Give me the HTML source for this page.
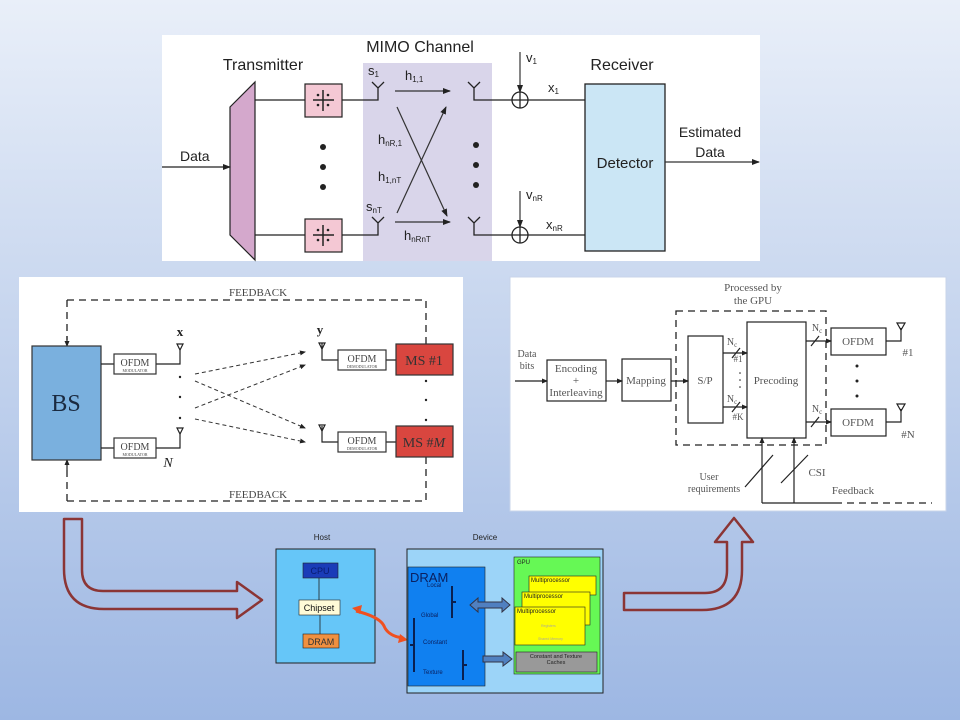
<!DOCTYPE html>
<html><head><meta charset="utf-8"><style>
html,body{margin:0;padding:0;}
body{width:960px;height:720px;overflow:hidden;background:linear-gradient(#e9eff9,#c6d5ee 45%,#9db7e3);}
svg{display:block}
.s{font-family:"Liberation Sans",sans-serif;}
.r{font-family:"Liberation Serif",serif;}
</style></head><body>
<svg width="960" height="720" viewBox="0 0 960 720" xmlns="http://www.w3.org/2000/svg">
<defs>
<marker id="a" markerWidth="8" markerHeight="8" refX="7" refY="4" orient="auto" markerUnits="userSpaceOnUse"><path d="M0,1 L8,4 L0,7 Z" fill="#222"/></marker>
<marker id="b" markerWidth="6" markerHeight="6" refX="5" refY="3" orient="auto" markerUnits="userSpaceOnUse"><path d="M0,0.5 L6,3 L0,5.5 Z" fill="#222"/></marker>
</defs>

<!-- TOP PANEL -->
<rect x="162" y="35" width="598" height="226" fill="#fff"/>
<rect x="363" y="63" width="129" height="198" fill="#d9d5ea"/>
<rect x="585" y="84" width="80" height="167" fill="#cbe6f5" stroke="#222" stroke-width="1.3"/>
<g class="s" fill="#222" font-size="16">
<text x="420" y="52" text-anchor="middle">MIMO Channel</text>
<text x="263" y="70" text-anchor="middle">Transmitter</text>
<text x="622" y="70" text-anchor="middle">Receiver</text>
<text x="180" y="161" font-size="14">Data</text>
<text x="710" y="137" font-size="14" text-anchor="middle">Estimated</text>
<text x="710" y="157" font-size="14" text-anchor="middle">Data</text>
<text x="625" y="168" font-size="15" text-anchor="middle">Detector</text>
</g>
<path d="M230,107 L255,82 L255,260 L230,235 Z" fill="#d4a8cc" stroke="#222" stroke-width="1.2"/>
<line x1="162" y1="167" x2="230" y2="167" stroke="#222" stroke-width="1.3" marker-end="url(#a)"/>
<g stroke="#222" stroke-width="1.3" fill="none">
<path d="M255,100 H305 M342,100 H378 V88 M372,82 L378,88 L384,82"/>
<path d="M255,235 H305 M342,235 H378 V223 M372,217 L378,223 L384,217"/>
<path d="M474,88 V100 H512 M468,82 L474,88 L480,82 M528,100 H585"/>
<path d="M474,223 V235 H512 M468,217 L474,223 L480,217 M528,235 H585"/>
<circle cx="520" cy="100" r="8" fill="#fff"/><path d="M512,100 H528 M520,92 V108"/>
<circle cx="520" cy="235" r="8" fill="#fff"/><path d="M512,235 H528 M520,227 V243"/>
</g>
<g fill="#f4c8d4" stroke="#222" stroke-width="1.2">
<rect x="305" y="84" width="37" height="33"/><rect x="305" y="219" width="37" height="33"/>
</g>
<g stroke="#222" stroke-width="1.5"><path d="M313,100 H334 M323,90 V111 M313,235 H334 M323,225 V246"/></g>
<g fill="#222"><circle cx="318" cy="95" r="1.3"/><circle cx="328" cy="95" r="1.3"/><circle cx="318" cy="105" r="1.3"/><circle cx="328" cy="105" r="1.3"/>
<circle cx="318" cy="230" r="1.3"/><circle cx="328" cy="230" r="1.3"/><circle cx="318" cy="240" r="1.3"/><circle cx="328" cy="240" r="1.3"/>
<circle cx="323" cy="147" r="3"/><circle cx="323" cy="167" r="3"/><circle cx="323" cy="187" r="3"/>
<circle cx="476" cy="145" r="3"/><circle cx="476" cy="165" r="3"/><circle cx="476" cy="185" r="3"/></g>
<g stroke="#333" stroke-width="1.2">
<line x1="395" y1="91" x2="450" y2="91" marker-end="url(#a)"/>
<line x1="395" y1="222" x2="450" y2="222" marker-end="url(#a)"/>
<line x1="397" y1="107" x2="447" y2="216" marker-end="url(#a)"/>
<line x1="397" y1="213" x2="446" y2="107" marker-end="url(#a)"/>
<line x1="520" y1="52" x2="520" y2="92" marker-end="url(#a)"/>
<line x1="520" y1="191" x2="520" y2="227" marker-end="url(#a)"/>
<line x1="665" y1="162" x2="759" y2="162" marker-end="url(#a)"/>
</g>
<g class="s" fill="#222" font-size="13">
<text x="368" y="75">s<tspan font-size="8" dy="2">1</tspan></text>
<text x="405" y="80">h<tspan font-size="8" dy="2">1,1</tspan></text>
<text x="378" y="144">h<tspan font-size="8" dy="2">nR,1</tspan></text>
<text x="378" y="181">h<tspan font-size="8" dy="2">1,nT</tspan></text>
<text x="366" y="211">s<tspan font-size="8" dy="2">nT</tspan></text>
<text x="404" y="240">h<tspan font-size="8" dy="2">nRnT</tspan></text>
<text x="526" y="62">v<tspan font-size="8" dy="2">1</tspan></text>
<text x="548" y="92">x<tspan font-size="8" dy="2">1</tspan></text>
<text x="526" y="199">v<tspan font-size="8" dy="2">nR</tspan></text>
<text x="546" y="229">x<tspan font-size="8" dy="2">nR</tspan></text>
</g>

<!-- MIDDLE LEFT -->
<rect x="19" y="277" width="444" height="235" fill="#fff"/>
<g stroke="#222" stroke-width="1.3" fill="none" stroke-dasharray="7,5">
<path d="M67,300 H426 V344 M67,300 V340"/>
<path d="M67,501 H426 V457 M67,501 V466"/>
</g>
<g stroke="#222" stroke-width="1.2">
<line x1="67" y1="336" x2="67" y2="346" marker-end="url(#b)"/>
<line x1="67" y1="470" x2="67" y2="460" marker-end="url(#b)"/>
</g>
<g class="r" fill="#444" font-size="11">
<text x="258" y="296" text-anchor="middle">FEEDBACK</text>
<text x="258" y="498" text-anchor="middle">FEEDBACK</text>
</g>
<rect x="32" y="346" width="69" height="114" fill="#7ab0de" stroke="#333" stroke-width="1.2"/>
<text x="66" y="411" class="r" font-size="24" fill="#1a2a40" text-anchor="middle">BS</text>
<g stroke="#222" stroke-width="1.2" fill="none">
<path d="M101,364 H114 M156,364 H180 V350 M101,448 H114 M156,448 H180 V434"/>
<path d="M177,344 L183,344 L180,350 Z M177,428 L183,428 L180,434 Z"/>
<path d="M386,360 H396 M386,442 H396"/>
<path d="M322,343 V360 H338 M322,426 V442 H338"/>
<path d="M319,343 L325,343 L322,349 Z M319,425 L325,425 L322,431 Z"/>
</g>
<g stroke="#333" stroke-width="1.2" fill="#fff">
<rect x="114" y="354" width="42" height="20"/><rect x="114" y="438" width="42" height="20"/>
<rect x="338" y="350" width="48" height="20"/><rect x="338" y="432" width="48" height="20"/>
</g>
<g class="r" fill="#444" text-anchor="middle">
<text x="135" y="366" font-size="10">OFDM</text><text x="135" y="372" font-size="4">MODULATOR</text>
<text x="135" y="450" font-size="10">OFDM</text><text x="135" y="456" font-size="4">MODULATOR</text>
<text x="362" y="362" font-size="10">OFDM</text><text x="362" y="368" font-size="4">DEMODULATOR</text>
<text x="362" y="444" font-size="10">OFDM</text><text x="362" y="450" font-size="4">DEMODULATOR</text>
<text x="180" y="336" font-size="13" font-weight="bold" fill="#222">x</text>
<text x="320" y="334" font-size="13" font-weight="bold" fill="#222">y</text>
<text x="168" y="467" font-size="14" font-style="italic" fill="#222">N</text>
</g>
<g fill="#222"><circle cx="180" cy="377" r="1.2"/><circle cx="180" cy="397" r="1.2"/><circle cx="180" cy="418" r="1.2"/>
<circle cx="426" cy="381" r="1.2"/><circle cx="426" cy="400" r="1.2"/><circle cx="426" cy="420" r="1.2"/></g>
<g stroke="#333" stroke-width="1" stroke-dasharray="4,3">
<line x1="195" y1="374" x2="305" y2="352" marker-end="url(#b)"/>
<line x1="195" y1="381" x2="305" y2="428" marker-end="url(#b)"/>
<line x1="195" y1="408" x2="305" y2="365" marker-end="url(#b)"/>
<line x1="195" y1="419" x2="305" y2="442" marker-end="url(#b)"/>
</g>
<rect x="396" y="344" width="57" height="31" fill="#d9463f" stroke="#333" stroke-width="1.2"/>
<rect x="396" y="426" width="57" height="31" fill="#d9463f" stroke="#333" stroke-width="1.2"/>
<text x="424" y="365" class="r" font-size="14" fill="#333" text-anchor="middle">MS #1</text>
<text x="424" y="447" class="r" font-size="14" fill="#333" text-anchor="middle">MS #<tspan font-style="italic">M</tspan></text>

<!-- MIDDLE RIGHT -->
<rect x="510" y="277" width="436" height="234" fill="#fff" stroke="#c8d4ea"/>
<rect x="676" y="311" width="150" height="134" fill="none" stroke="#222" stroke-width="1.3" stroke-dasharray="7,5"/>
<g stroke="#222" stroke-width="1.2" fill="#fff">
<rect x="547" y="360" width="59" height="41"/><rect x="622" y="359" width="49" height="42"/>
<rect x="688" y="336" width="35" height="87"/><rect x="747" y="322" width="59" height="116"/>
<rect x="831" y="328" width="55" height="27"/><rect x="831" y="409" width="55" height="27"/>
</g>
<g class="r" fill="#555" font-size="11" text-anchor="middle">
<text x="753" y="291">Processed by</text><text x="753" y="304">the GPU</text>
<text x="527" y="357" font-size="10">Data</text><text x="527" y="369" font-size="10">bits</text>
<text x="576" y="372">Encoding</text><text x="576" y="384">+</text><text x="576" y="396">Interleaving</text>
<text x="646" y="384">Mapping</text>
<text x="705" y="384">S/P</text>
<text x="776" y="384">Precoding</text>
<text x="858" y="345">OFDM</text><text x="858" y="426">OFDM</text>
<text x="908" y="356">#1</text><text x="908" y="438">#N</text>
<text x="709" y="480" font-size="10">User</text><text x="714" y="492" font-size="10">requirements</text>
<text x="817" y="476">CSI</text>
<text x="853" y="494">Feedback</text>
<text x="732" y="345" font-size="10">N<tspan font-size="7" dy="2">c</tspan></text>
<text x="738" y="362" font-size="9">#1</text>
<text x="732" y="402" font-size="10">N<tspan font-size="7" dy="2">c</tspan></text>
<text x="738" y="420" font-size="9">#K</text>
<text x="817" y="331" font-size="10">N<tspan font-size="7" dy="2">c</tspan></text>
<text x="817" y="412" font-size="10">N<tspan font-size="7" dy="2">c</tspan></text>
</g>
<g stroke="#222" stroke-width="1.2" fill="none">
<line x1="515" y1="381" x2="547" y2="381" marker-end="url(#b)"/>
<line x1="606" y1="381" x2="622" y2="381" marker-end="url(#b)"/>
<line x1="671" y1="381" x2="688" y2="381" marker-end="url(#b)"/>
<line x1="723" y1="353" x2="747" y2="353" marker-end="url(#b)"/>
<line x1="723" y1="407" x2="747" y2="407" marker-end="url(#b)"/>
<line x1="806" y1="341" x2="831" y2="341" marker-end="url(#b)"/>
<line x1="806" y1="422" x2="831" y2="422" marker-end="url(#b)"/>
<line x1="762" y1="503" x2="762" y2="438" marker-end="url(#b)"/>
<line x1="794" y1="503" x2="794" y2="438" marker-end="url(#b)"/>
<path d="M762,503 H835"/>
<path d="M835,503 H932" stroke-dasharray="7,5"/>
<path d="M886,341 H901 V328 M886,422 H901 V409"/>
<path d="M897,323 L905,323 L901,330 Z M897,404 L905,404 L901,411 Z"/>
<path d="M732,358 L740,348 M732,412 L740,402 M811,346 L819,336 M811,427 L819,417 M745,487 L773,455 M781,483 L808,455"/>
</g>
<g fill="#222"><circle cx="857" cy="366" r="1.5"/><circle cx="857" cy="381" r="1.5"/><circle cx="857" cy="396" r="1.5"/>
<circle cx="740" cy="373" r="0.8"/><circle cx="740" cy="380" r="0.8"/><circle cx="740" cy="387" r="0.8"/></g>

<!-- BIG ARROWS -->
<path d="M64,519 H82 V570 Q82,591 103,591 H237 V582 L262,600 L237,618 V609 H104 Q64,609 64,569 Z" fill="none" stroke="#8b3535" stroke-width="2.5" stroke-linejoin="round"/>
<path d="M624,593 H705 Q727,593 727,570 V542 H715 L734,518 L753,542 H742 V570 Q742,610 702,610 H624 Z" fill="none" stroke="#8b3535" stroke-width="2.5" stroke-linejoin="round"/>

<!-- BOTTOM -->
<g class="s" font-size="8" fill="#222">
<text x="322" y="540" text-anchor="middle">Host</text>
<text x="485" y="540" text-anchor="middle">Device</text>
</g>
<rect x="276" y="549" width="99" height="114" fill="#66c6f8" stroke="#222"/>
<rect x="303" y="563" width="35" height="15" fill="#1a3cb8" stroke="#222" stroke-width="0.6"/>
<rect x="299" y="600" width="41" height="15" fill="#fffbd8" stroke="#222" stroke-width="0.6"/>
<rect x="303" y="634" width="36" height="14" fill="#f09040" stroke="#222" stroke-width="0.6"/>
<path d="M319,578 V600 M320,615 V634" stroke="#222" stroke-width="0.8"/>
<g class="s" font-size="9" fill="#111" text-anchor="middle">
<text x="320" y="574" fill="#0a1c70">CPU</text><text x="319" y="611">Chipset</text><text x="321" y="645" fill="#333">DRAM</text>
</g>
<path d="M356,611 Q380,617 384,626 Q388,636 403,638" stroke="#f05020" stroke-width="3" fill="none"/>
<path d="M352,608 L362,605 L360,614 Z M408,640 L398,643 L400,634 Z" fill="#f05020"/>
<rect x="407" y="549" width="196" height="144" fill="#9cd4f8" stroke="#222"/>
<rect x="408" y="567" width="77" height="119" fill="#1080f0" stroke="#222" stroke-width="0.6"/>
<g class="s" fill="#0a2060">
<text x="410" y="582" font-size="13">DRAM</text>
<text x="427" y="587" font-size="6">Local</text>
<text x="421" y="617" font-size="6">Global</text>
<text x="423" y="644" font-size="6">Constant</text>
<text x="423" y="674" font-size="6">Texture</text>
</g>
<g stroke="#0a2050" stroke-width="2" fill="none">
<path d="M452,586 V618 M452,602 H456"/><path d="M414,618 V672 M414,645 H410"/><path d="M463,650 V680 M463,665 H467"/>
</g>
<rect x="514" y="557" width="86" height="117" fill="#66f855" stroke="#222" stroke-width="0.6"/>
<text x="517" y="564" class="s" font-size="6" fill="#222">GPU</text>
<rect x="529" y="576" width="67" height="19" fill="#ffff00" stroke="#222" stroke-width="0.6"/>
<rect x="522" y="592" width="68" height="33" fill="#ffff00" stroke="#222" stroke-width="0.6"/>
<rect x="515" y="607" width="70" height="38" fill="#ffff00" stroke="#222" stroke-width="0.6"/>
<g class="s" font-size="6" fill="#222">
<text x="531" y="582">Multiprocessor</text><text x="524" y="598">Multiprocessor</text><text x="517" y="613">Multiprocessor</text>
<text x="541" y="627" font-size="3.5" fill="#aa9">Registers</text><text x="538" y="640" font-size="3.5" fill="#aa9">Shared Memory</text>
</g>
<rect x="516" y="652" width="81" height="20" fill="#999" stroke="#222" stroke-width="0.6"/>
<text x="556" y="658" class="s" font-size="5.5" fill="#222" text-anchor="middle">Constant and Texture</text>
<text x="556" y="664" class="s" font-size="5.5" fill="#222" text-anchor="middle">Caches</text>
<path d="M470,605 L478,598 V602 H502 V598 L510,605 L502,612 V608 H478 V612 Z" fill="#5080c0" stroke="#334"/>
<path d="M483,656 H503 V652 L512,659 L503,666 V662 H483 Z" fill="#5080c0" stroke="#334"/>
</svg>
</body></html>
